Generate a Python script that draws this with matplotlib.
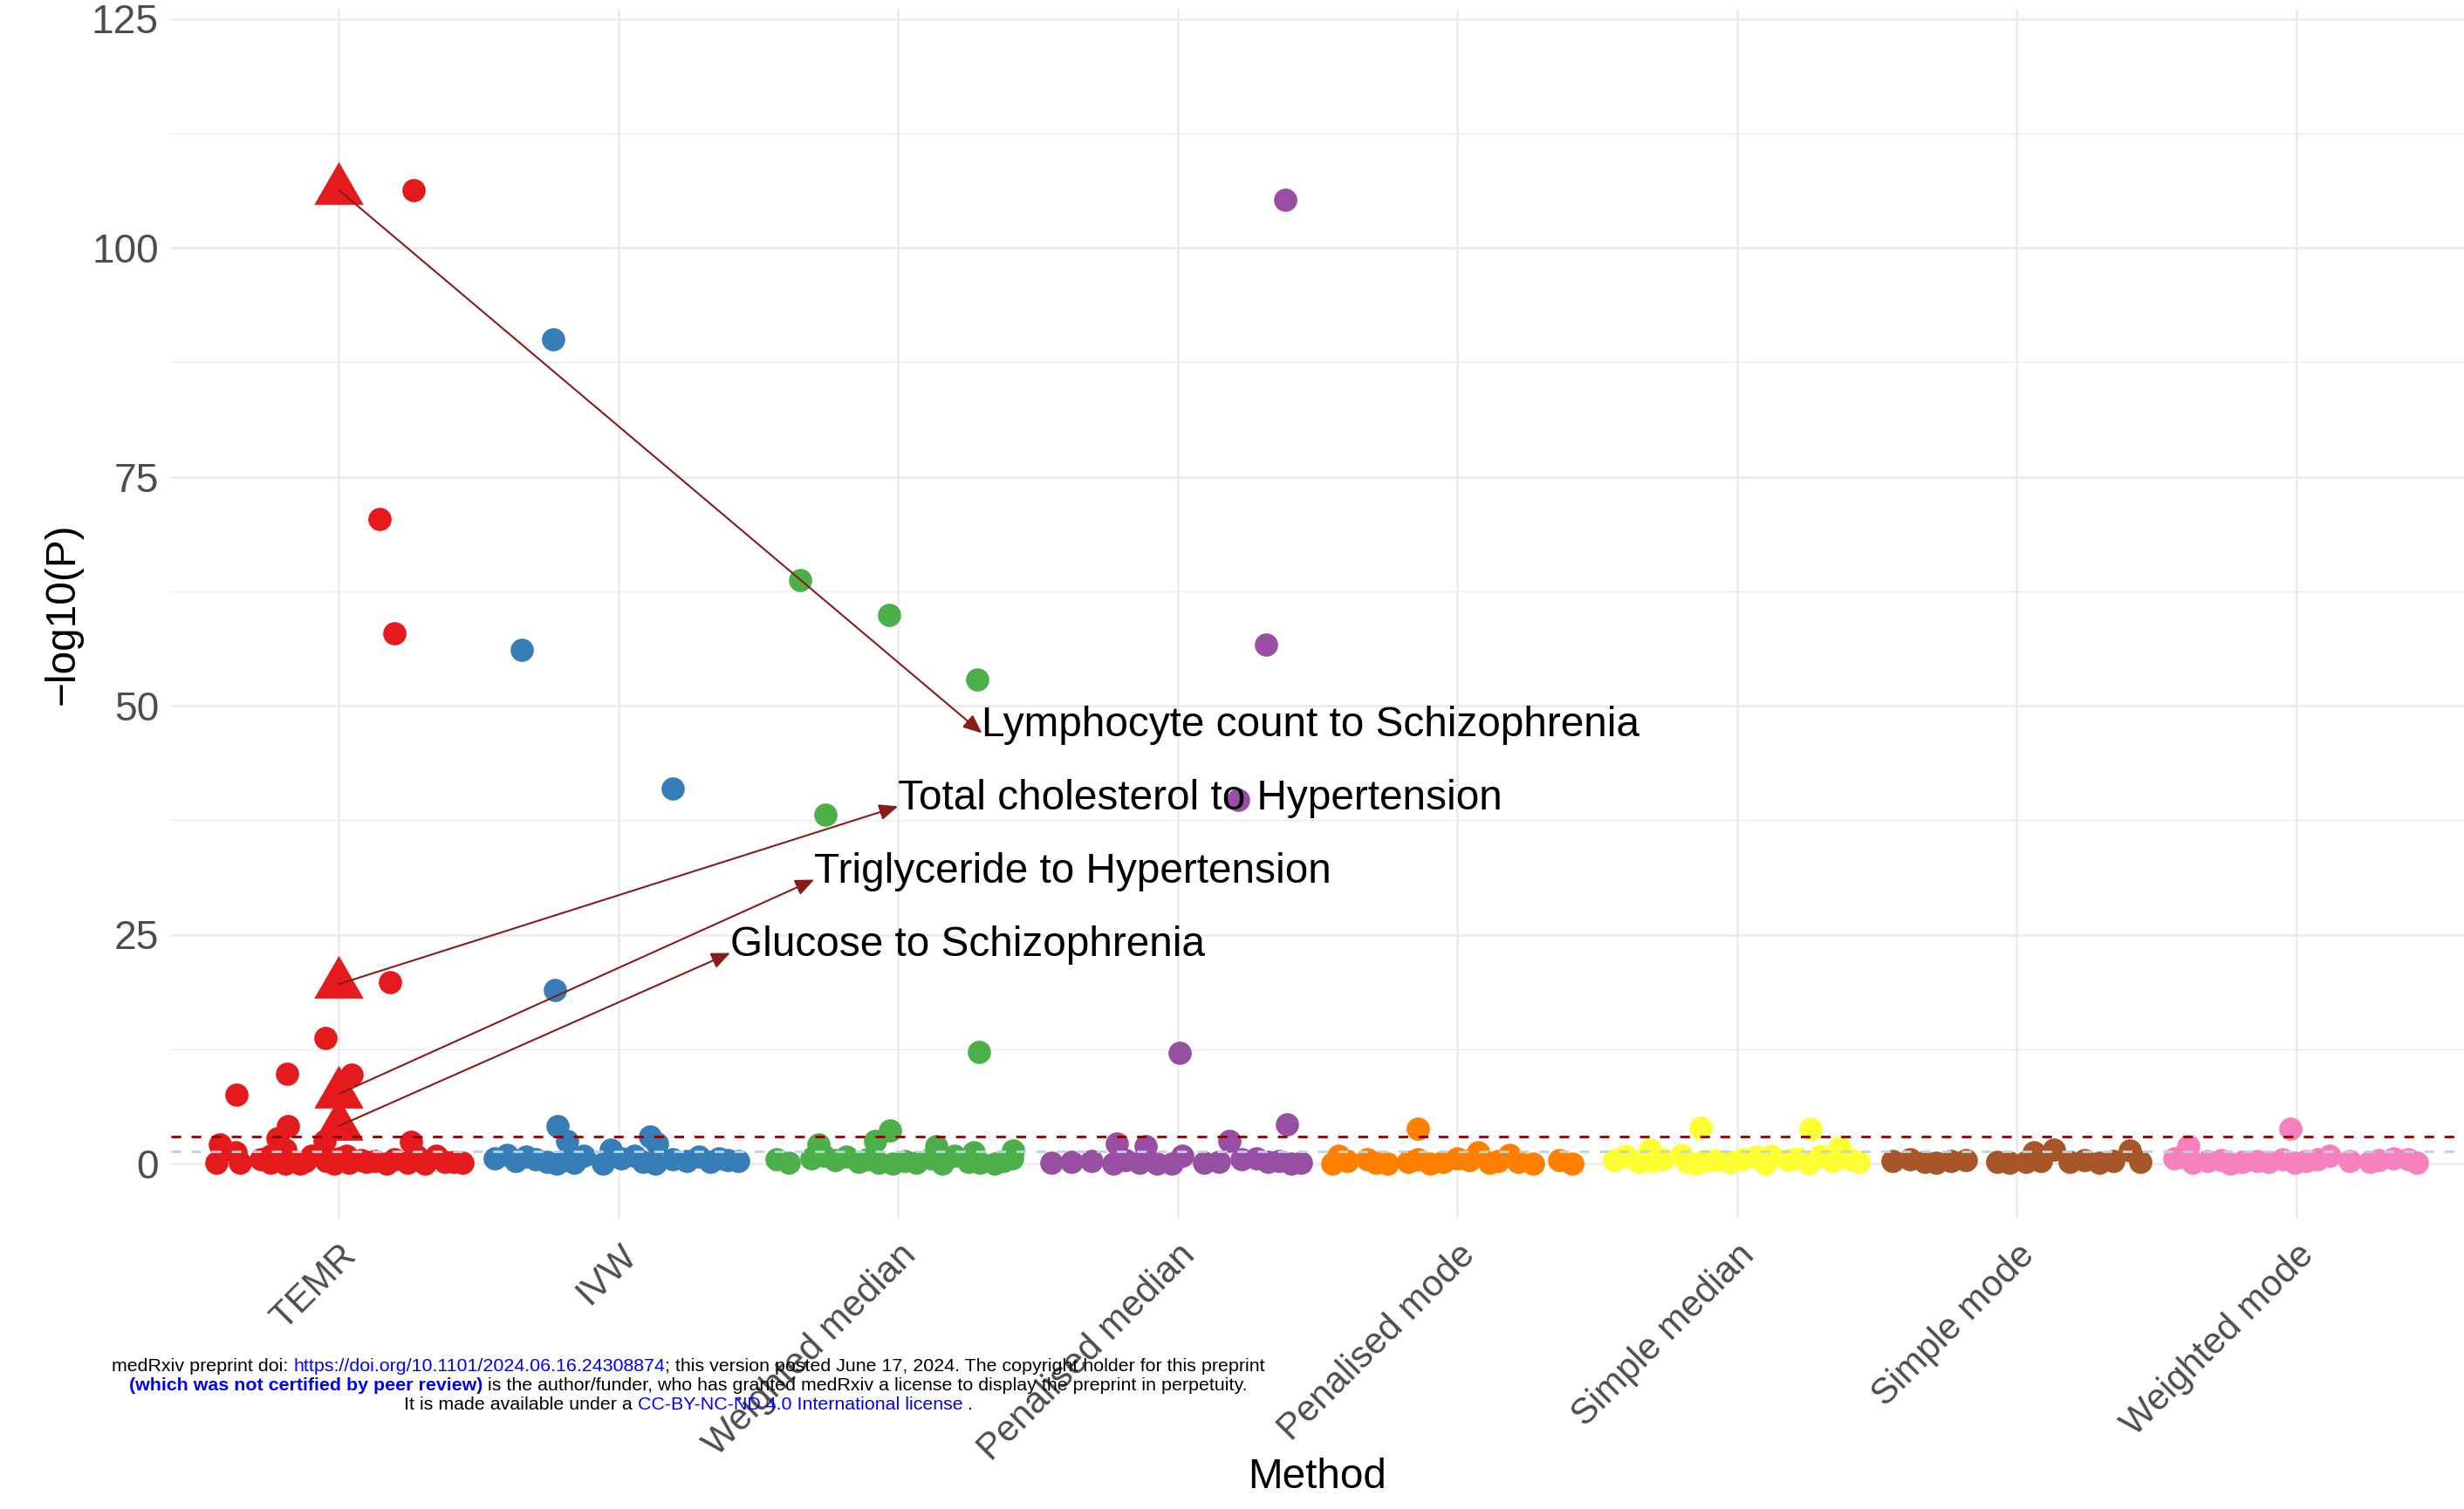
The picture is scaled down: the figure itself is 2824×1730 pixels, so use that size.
import matplotlib
matplotlib.use("Agg")
import matplotlib.pyplot as plt
from matplotlib.patches import FancyArrowPatch
import numpy as np

plt.rcParams['font.family'] = ['Liberation Sans', 'DejaVu Sans']

# ---------------- data ----------------
methods = ["TEMR", "IVW", "Weighted median", "Penalised median",
           "Penalised mode", "Simple median", "Simple mode", "Weighted mode"]
method_colors = ["#E41A1C", "#377EB8", "#4DAF4A", "#984EA3",
                 "#FF7F00", "#FFFF33", "#A65628", "#F781BF"]

temr_jitter = [0.267, 0.145, 0.20, 0.183, -0.049, -0.184, 0.045, -0.365, -0.181,
               -0.425, -0.22, -0.051, 0.258, -0.368, -0.4375, -0.352,
               -0.243, -0.243, -0.191, -0.191, -0.139, -0.098, -0.046, -0.015,
               0.027, 0.037, 0.079, 0.131, 0.172, 0.245, 0.277, 0.308, 0.349,
               0.38, 0.412, 0.443, -0.28, -0.12, 0.0, 0.10, 0.20]
temr_logp = [106.3, 70.4, 57.9, 19.8, 13.7, 9.8, 9.7, 7.5, 4.1,
             2.1, 2.8, 2.5, 2.4, 1.2, 0.1, 0.1,
             0.9, 0.1, 1.55, 0.0, 0.0, 0.9, 0.3, 0.0,
             0.9, 0.1, 0.4, 0.3, 0.0, 0.1, 0.9, 0.0, 0.9,
             0.2, 0.2, 0.1, 0.5, 0.3, 0.6, 0.2, 0.5]

ivw_jitter = [-0.233, -0.345, 0.195, -0.227, -0.217, -0.183, 0.113, 0.139, -0.027,
              -0.441, -0.399, -0.368, -0.331, -0.295, -0.254, -0.222, -0.191,
              -0.160, -0.124, -0.056, 0.011, 0.058, 0.089, 0.131, 0.193, 0.245,
              0.287, 0.328, 0.360, 0.391, 0.427]
ivw_logp = [90.0, 56.1, 41.0, 19.0, 4.1, 2.5, 3.0, 2.2, 1.55,
            0.6, 1.0, 0.3, 0.8, 0.5, 0.2, 0.0, 0.4, 0.1, 0.9, 0.0, 0.6,
            0.9, 0.2, 0.0, 0.5, 0.3, 0.8, 0.2, 0.6, 0.4, 0.3]

wmedian_jitter = [-0.351, -0.031, 0.283, -0.261, 0.289, -0.029, -0.081, -0.284,
                  0.137, 0.412, 0.272,
                  -0.433, -0.392, -0.309, -0.267, -0.225, -0.184, -0.142, -0.111,
                  -0.070, -0.018, 0.024, 0.065, 0.118, 0.159, 0.201, 0.253,
                  0.294, 0.346, 0.377, 0.408]
wmedian_logp = [63.7, 59.9, 52.9, 38.1, 12.2, 3.6, 2.5, 2.1, 1.9, 1.4, 1.2,
                0.5, 0.1, 0.6, 0.9, 0.4, 0.8, 0.2, 0.5, 0.1, 0.0, 0.3, 0.1,
                0.6, 0.0, 0.9, 0.2, 0.1, 0.0, 0.3, 0.6]

pmedian_jitter = [0.384, 0.317, 0.216, 0.008, 0.391, 0.185, -0.219, -0.115,
                  -0.452, -0.379, -0.307, -0.229, -0.187, -0.135, -0.073,
                  -0.021, 0.016, 0.094, 0.146, 0.229, 0.281, 0.322, 0.364,
                  0.405, 0.441]
pmedian_logp = [105.2, 56.7, 39.7, 12.1, 4.3, 2.45, 2.2, 1.9,
                0.1, 0.2, 0.3, 0.0, 0.4, 0.1, 0.0, 0.0, 0.9, 0.1, 0.2,
                0.5, 0.6, 0.2, 0.3, 0.0, 0.1]

pmode_jitter = [-0.142, -0.447, -0.426, -0.395, -0.322, -0.291, -0.249, -0.177,
                -0.140, -0.099, -0.052, 0.0, 0.042, 0.073, 0.114, 0.146, 0.187,
                0.218, 0.270, 0.364, 0.411]
pmode_logp = [3.85, 0.0, 0.9, 0.3, 0.5, 0.1, 0.0, 0.2, 0.5, 0.0, 0.2, 0.6,
              0.4, 1.2, 0.1, 0.3, 1.0, 0.2, 0.0, 0.4, 0.0]

smedian_jitter = [-0.129, 0.263, 0.365, -0.311, -0.44, -0.398, -0.351, -0.305,
                  -0.263, -0.2, -0.18, -0.149, -0.118, -0.076, -0.024, 0.018,
                  0.070, 0.101, 0.122, 0.184, 0.215, 0.257, 0.298, 0.340,
                  0.402, 0.433]
smedian_logp = [3.9, 3.85, 1.7, 1.55, 0.4, 0.9, 0.2, 0.3, 0.5, 1.0, 0.2, 0.0,
                0.3, 0.4, 0.2, 0.5, 0.8, 0.0, 0.9, 0.4, 0.6, 0.0, 0.9, 0.3,
                0.5, 0.2]

smode_jitter = [-0.443, -0.380, -0.328, -0.287, -0.235, -0.183, -0.069, -0.027,
                0.035, 0.061, 0.087, 0.134, 0.191, 0.243, 0.295, 0.347, 0.404,
                0.441]
smode_logp = [0.3, 0.5, 0.2, 0.1, 0.3, 0.4, 0.2, 0.1, 0.2, 1.2, 0.3, 1.55,
              0.2, 0.4, 0.1, 0.3, 1.4, 0.2]

wmode_jitter = [-0.022, -0.387, -0.437, -0.412, -0.370, -0.318, -0.266, -0.235,
                -0.193, -0.141, -0.1, -0.048, -0.006, 0.035, 0.077, 0.118,
                0.191, 0.264, 0.295, 0.347, 0.399, 0.430]
wmode_logp = [3.85, 1.95, 0.6, 0.8, 0.1, 0.3, 0.4, 0.0, 0.2, 0.3, 0.2, 0.5,
              0.1, 0.3, 0.5, 0.9, 0.3, 0.2, 0.4, 0.6, 0.5, 0.1]

jitters = [temr_jitter, ivw_jitter, wmedian_jitter, pmedian_jitter,
           pmode_jitter, smedian_jitter, smode_jitter, wmode_jitter]
logps = [temr_logp, ivw_logp, wmedian_logp, pmedian_logp,
         pmode_logp, smedian_logp, smode_logp, wmode_logp]

# highlighted TEMR results (triangles) and their labels
highlight_logp = [106.3, 19.6, 7.6, 4.1]
highlight_labels = ["Lymphocyte count to Schizophrenia",
                    "Total cholesterol to Hypertension",
                    "Triglyceride to Hypertension",
                    "Glucose to Schizophrenia"]
label_x = [3.3, 3.0, 2.7, 2.4]
label_y = [47.0, 39.0, 31.0, 23.0]

strict_threshold = 3.0          # Bonferroni-type line
nominal_threshold = -np.log10(0.05)

y_ticks = [0, 25, 50, 75, 100, 125]

# ---------------- figure ----------------
W, H, DPI = 2824, 1730, 200
fig = plt.figure(figsize=(W / DPI, H / DPI), dpi=DPI)
ax = fig.add_axes([196 / W, 1 - 1397 / H, 1 - 196 / W, (1397 - 11) / H])

xpos = np.arange(1, len(methods) + 1)
for i, (jit, lp, col) in enumerate(zip(jitters, logps, method_colors)):
    xs = xpos[i] + np.array(jit)
    ax.scatter(xs, lp, s=92, c=col, linewidths=0, zorder=3)

tri = [(0, 1.0), (-0.866, -0.5), (0.866, -0.5)]
ax.scatter([xpos[0]] * len(highlight_logp), highlight_logp, marker=tri,
           s=23.5 ** 2, c=method_colors[0], linewidths=0, zorder=4)

ax.axhline(strict_threshold, color="#8B0000", lw=1.0, dashes=(4, 4.3), zorder=5)
ax.axhline(nominal_threshold, color="#ADD8E6", lw=1.0, dashes=(4, 4.3), zorder=5)

for yv, lab, lx, ly in zip(highlight_logp, highlight_labels, label_x, label_y):
    arr = FancyArrowPatch((xpos[0], yv), (lx, ly),
                          arrowstyle="-|>,head_length=6.5,head_width=2.8",
                          mutation_scale=1, color="#8B1A1A", lw=0.75,
                          shrinkA=0, shrinkB=0, zorder=6)
    ax.add_patch(arr)
    ax.text(lx, ly + 0.9, lab, ha="left", va="center", fontsize=17.2,
            color="black", zorder=7)

ax.set_xlim(0.4, len(methods) + 0.6)
ax.set_ylim(-6, 126)
ax.set_yticks(y_ticks)
ax.set_yticks([12.5, 37.5, 62.5, 87.5, 112.5], minor=True)
ax.set_xticks(xpos)
ax.set_xticklabels(methods, rotation=45, ha="right", va="top",
                   rotation_mode="anchor", fontsize=15.1, color="#4D4D4D")
ax.tick_params(axis="y", labelsize=16.6, labelcolor="#4D4D4D", length=0, pad=5)
ax.tick_params(axis="x", length=0, pad=8)
ax.tick_params(which="minor", length=0)
ax.grid(True, which="major", color="#EBEBEB", lw=0.9)
ax.grid(True, which="minor", axis="y", color="#EBEBEB", lw=0.45)
ax.set_axisbelow(True)
for sp in ax.spines.values():
    sp.set_visible(False)

fig.text(72 / W, 1 - 704 / H, "\u2212log10(P)", rotation=90, ha="center",
         va="center", fontsize=17.2)
fig.text(1510 / W, 1 - 1693 / H, "Method", ha="center", va="center",
         fontsize=17.2)

# ---------------- medRxiv overlay ----------------
renderer = fig.canvas.get_renderer()
lines = [
    [("medRxiv preprint doi: ", "black", "normal"),
     ("https://doi.org/10.1101/2024.06.16.24308874", "#0000FF", "normal"),
     ("; this version posted June 17, 2024. The copyright holder for this preprint", "black", "normal")],
    [("(which was not certified by peer review)", "#0000FF", "bold"),
     (" is the author/funder, who has granted medRxiv a license to display the preprint in perpetuity.", "black", "normal")],
    [("It is made available under a ", "black", "normal"),
     ("CC-BY-NC-ND 4.0 International license", "#0000FF", "normal"),
     (" .", "black", "normal")],
]
baselines = [1572, 1594, 1616]
fs_small = 7.7
center_px = 789
for segs, base in zip(lines, baselines):
    widths = []
    for txt, col, wt in segs:
        t = fig.text(0, 0, txt, fontsize=fs_small, fontweight=wt)
        bb = t.get_window_extent(renderer=renderer)
        widths.append(bb.width)
        t.remove()
    total = sum(widths)
    x0 = center_px - total / 2
    for (txt, col, wt), w in zip(segs, widths):
        fig.text(x0 / W, 1 - base / H, txt, fontsize=fs_small, fontweight=wt,
                 color=col, ha="left", va="baseline")
        x0 += w

fig.savefig("out.png", dpi=DPI)
